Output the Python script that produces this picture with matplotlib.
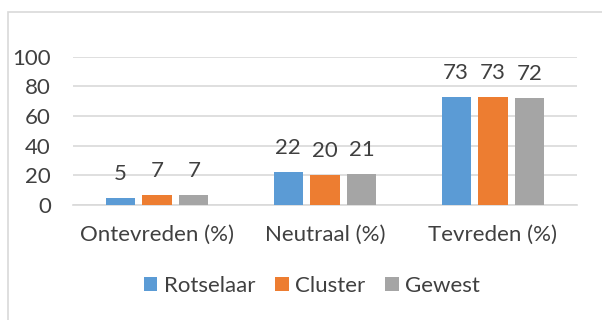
import matplotlib
matplotlib.use("Agg")
import matplotlib.pyplot as plt
from matplotlib.patches import Rectangle
import numpy as np

categories = ["Ontevreden (%)", "Neutraal (%)", "Tevreden (%)"]
series_names = ["Rotselaar", "Cluster", "Gewest"]
rotselaar = [5, 22, 73]
cluster = [7, 20, 73]
gewest = [7, 21, 72]
yticks = [0, 20, 40, 60, 80, 100]

colors = ["#5B9BD5", "#ED7D31", "#A5A5A5"]
text_color = "#404040"
grid_color = "#D9D9D9"
fs = 16

plt.rcParams["font.family"] = ["Lato", "DejaVu Sans"]

fig = plt.figure(figsize=(6.02, 3.2), dpi=100)
fig.patch.set_facecolor("white")

# outer chart border
fig.patches.append(Rectangle((8 / 602, -0.1), 1.2, 1 - 12 / 320 + 0.1,
                             transform=fig.transFigure, fill=False,
                             edgecolor=grid_color, linewidth=1.2))

ax = fig.add_axes([73 / 602, 1 - 205 / 320, 504 / 602, 148.3 / 320])

x = np.arange(len(categories))
width = 0.173
step = 0.22
for i, (name, vals) in enumerate(zip(series_names, [rotselaar, cluster, gewest])):
    pos = x + (i - 1) * step
    ax.bar(pos, vals, width, color=colors[i], label=name, zorder=3)
    for xp, v in zip(pos, vals):
        ax.annotate(str(v), (xp, v), xytext=(0, 13), textcoords="offset points",
                    ha="center", va="baseline", fontsize=fs, color=text_color)

ax.set_xlim(-0.5, 2.5)
ax.set_ylim(0, 100)
ax.set_yticks(yticks)
ax.set_xticks(x)
ax.set_xticklabels(categories)
ax.yaxis.grid(True, color=grid_color, linewidth=1.2, zorder=0)
ax.set_axisbelow(True)
for s in ["top", "right", "left"]:
    ax.spines[s].set_visible(False)
ax.spines["bottom"].set_color(grid_color)
ax.spines["bottom"].set_linewidth(1.2)
ax.tick_params(axis="both", length=0, labelsize=fs, labelcolor=text_color)
ax.tick_params(axis="y", pad=16)
ax.tick_params(axis="x", pad=14)

ax.legend(loc="center", bbox_to_anchor=(312 / 602, 1 - 286 / 320), bbox_transform=fig.transFigure,
          ncol=3, frameon=False, fontsize=fs, labelcolor=text_color,
          handlelength=0.6, handleheight=0.6, handletextpad=0.3, columnspacing=0.9)

fig.savefig("out.png", dpi=100, facecolor="white")
